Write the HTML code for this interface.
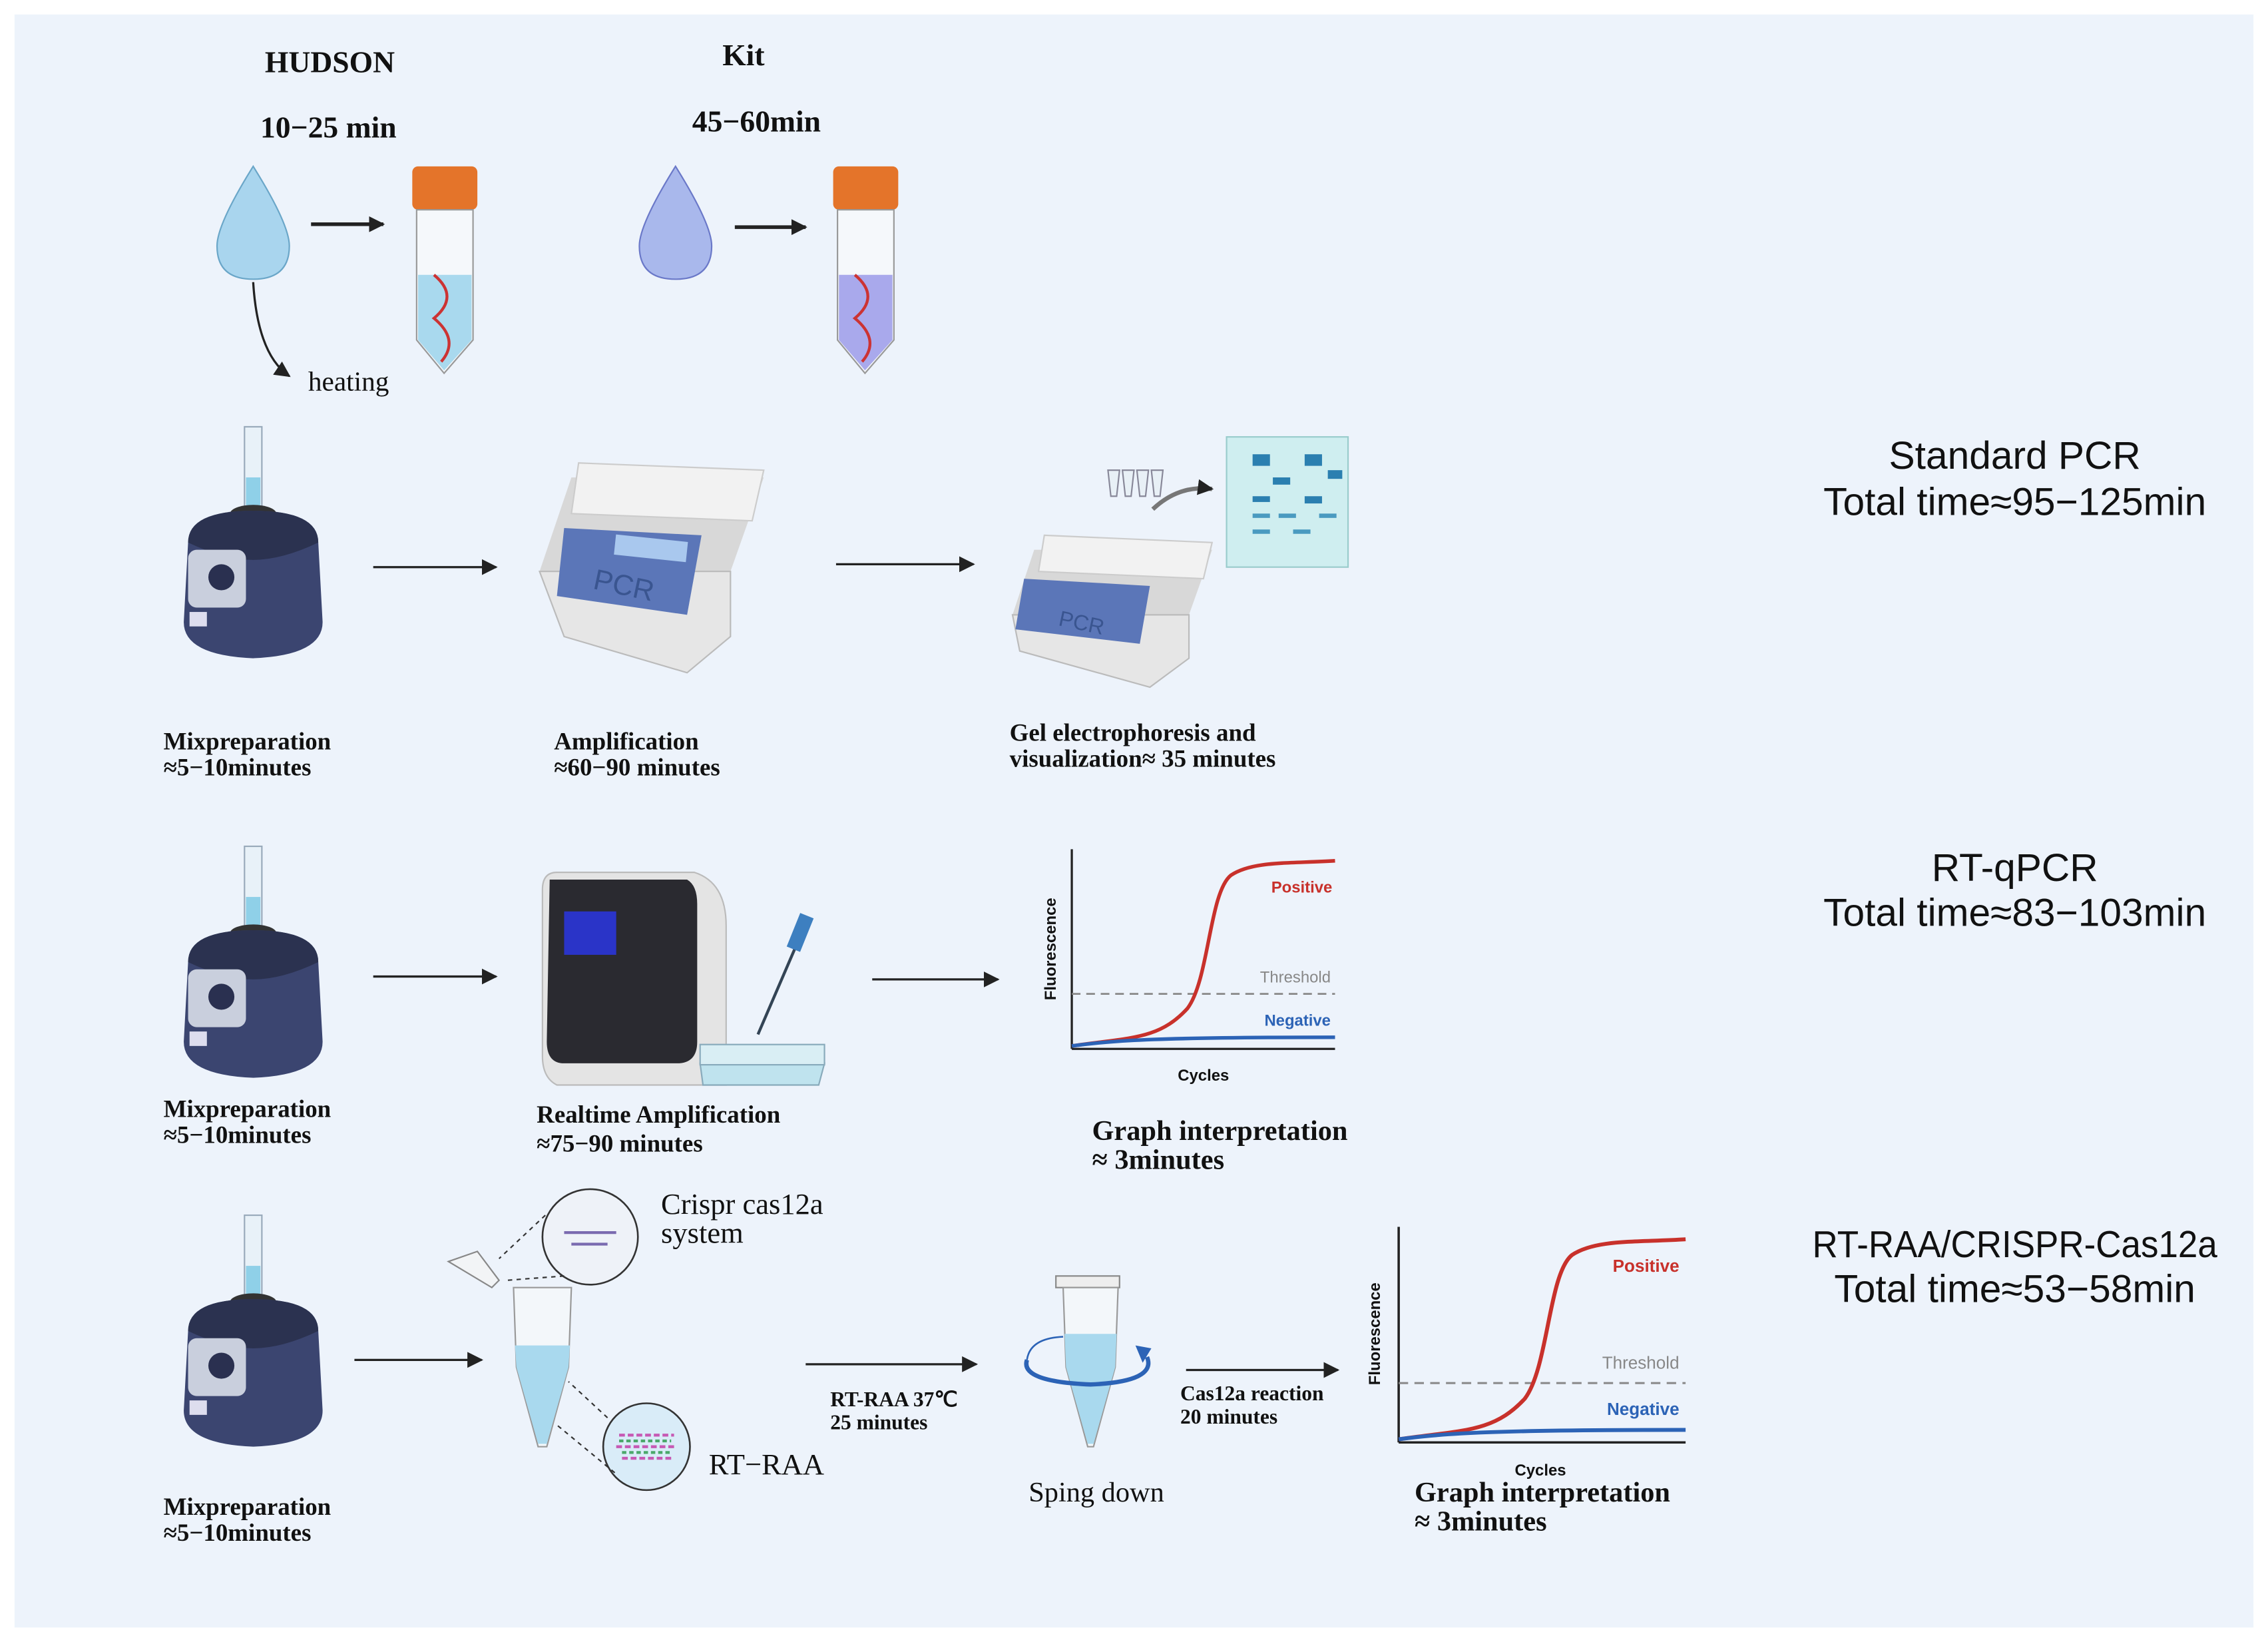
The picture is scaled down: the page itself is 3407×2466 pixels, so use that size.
<!DOCTYPE html>
<html><head><meta charset="utf-8"><style>
html,body{margin:0;padding:0;background:#fff;}
svg{display:block;}
.b{font-family:"Liberation Serif",serif;font-weight:bold;fill:#111;}
.s{font-family:"Liberation Serif",serif;fill:#111;}
.r{font-family:"Liberation Sans",sans-serif;fill:#111;}
.g{font-family:"Liberation Sans",sans-serif;font-weight:bold;}
</style></head><body>
<svg width="3407" height="2466" viewBox="0 0 1568 1135" xmlns="http://www.w3.org/2000/svg">
<defs>
<marker id="ah" viewBox="0 0 10 10" refX="9" refY="5" markerUnits="userSpaceOnUse" markerWidth="11" markerHeight="11" orient="auto"><path d="M0,0 L10,5 L0,10 z" fill="#222"/></marker>
<g id="vortex">
 <rect x="-6" y="-80" width="12" height="60" fill="#e8f1f8" stroke="#9ab" stroke-width="1"/>
 <rect x="-5" y="-45" width="10" height="22" fill="#8fd0e8"/>
 <ellipse cx="0" cy="-20" rx="16" ry="6" fill="#333"/>
 <path d="M-45,0 Q-45,-22 0,-22 Q45,-22 45,0 L48,55 Q48,78 0,80 Q-48,78 -48,55 Z" fill="#3b4570"/>
 <path d="M-45,0 Q-45,-22 0,-22 Q45,-22 45,0 Q20,12 0,12 Q-20,12 -45,0Z" fill="#2b3250"/>
 <rect x="-45" y="5" width="40" height="40" rx="6" fill="#c9cfdd"/>
 <circle cx="-22" cy="24" r="9" fill="#2a3050"/>
 <rect x="-44" y="48" width="12" height="10" fill="#dde" />
</g>
<g id="graph">
 <line x1="0" y1="0" x2="0" y2="138" stroke="#222" stroke-width="1.5"/>
 <line x1="0" y1="138" x2="182" y2="138" stroke="#222" stroke-width="1.5"/>
 <line x1="0" y1="100" x2="182" y2="100" stroke="#888" stroke-width="1.3" stroke-dasharray="6,4"/>
 <path d="M0,136 C40,130 60,132 80,110 C95,90 95,30 110,18 C125,8 150,10 182,8" fill="none" stroke="#c8312b" stroke-width="2.5"/>
 <path d="M0,136 C30,132 60,130 182,130" fill="none" stroke="#2c63b6" stroke-width="2.5"/>
</g>
</defs>
<rect width="1568" height="1135" fill="#fff"/>
<rect x="10" y="10" width="1548" height="1115" fill="#edf3fb"/>

<!-- top -->
<text class="b" x="228" y="50" font-size="21" text-anchor="middle">HUDSON</text>
<text class="b" x="227" y="95" font-size="21" text-anchor="middle">10−25 min</text>
<text class="b" x="514" y="45" font-size="21" text-anchor="middle">Kit</text>
<text class="b" x="523" y="91" font-size="21" text-anchor="middle">45−60min</text>
<path d="M175,115 Q150,155 150,170 Q150,193 175,193 Q200,193 200,170 Q200,155 175,115Z" fill="#a9d5ee" stroke="#6aa6c8"/>
<path d="M467,115 Q442,155 442,170 Q442,193 467,193 Q492,193 492,170 Q492,155 467,115Z" fill="#a9b8ec" stroke="#6a78c8"/>
<line x1="215" y1="155" x2="265" y2="155" stroke="#222" stroke-width="2.5" marker-end="url(#ah)"/>
<line x1="508" y1="157" x2="557" y2="157" stroke="#222" stroke-width="2.5" marker-end="url(#ah)"/>
<path d="M175,195 Q178,245 200,260" fill="none" stroke="#222" stroke-width="1.5" marker-end="url(#ah)"/>
<text class="s" x="213" y="270" font-size="19">heating</text>
<g>
 <rect x="285" y="115" width="45" height="30" rx="4" fill="#e4742a"/>
 <path d="M288,145 L327,145 L327,235 L307,258 L288,235Z" fill="#f5f8fb" stroke="#999"/>
 <path d="M289,190 L326,190 L326,235 L307,256 L289,235Z" fill="#a9d9ee"/>
 <path d="M300,190 Q318,205 300,220 Q318,235 305,250" fill="none" stroke="#c33" stroke-width="2"/>
 <rect x="576" y="115" width="45" height="30" rx="4" fill="#e4742a"/>
 <path d="M579,145 L618,145 L618,235 L598,258 L579,235Z" fill="#f5f8fb" stroke="#999"/>
 <path d="M580,190 L617,190 L617,235 L598,256 L580,235Z" fill="#a9a9ec"/>
 <path d="M591,190 Q609,205 591,220 Q609,235 596,250" fill="none" stroke="#c33" stroke-width="2"/>
</g>

<!-- row 1 -->
<use href="#vortex" x="175" y="375"/>
<line x1="258" y1="392" x2="343" y2="392" stroke="#222" stroke-width="1.5" marker-end="url(#ah)"/>
<g>
 <path d="M373,395 L395,330 L528,330 L505,395 Z" fill="#d8d8d8"/>
 <path d="M400,320 L528,325 L520,360 L395,355Z" fill="#f2f2f2" stroke="#ccc"/>
 <path d="M373,395 L505,395 L505,440 L475,465 L390,440 Z" fill="#e6e6e6" stroke="#bbb"/>
 <path d="M390,365 L485,370 L475,425 L385,412Z" fill="#5b76b8"/>
 <rect x="425" y="372" width="50" height="14" fill="#a9c8ee" transform="rotate(6 450 379)"/>
 <text class="r" x="410" y="410" font-size="20" transform="rotate(12 425 405)" style="fill:#3a5590">PCR</text>
</g>
<line x1="578" y1="390" x2="673" y2="390" stroke="#222" stroke-width="1.5" marker-end="url(#ah)"/>
<g>
 <path d="M700,425 L715,380 L838,380 L822,425 Z" fill="#d8d8d8"/>
 <path d="M722,370 L838,375 L832,400 L718,395Z" fill="#f2f2f2" stroke="#ccc"/>
 <path d="M700,425 L822,425 L822,455 L795,475 L705,450 Z" fill="#e6e6e6" stroke="#bbb"/>
 <path d="M708,400 L795,405 L788,445 L702,435Z" fill="#5b76b8"/>
 <text class="r" x="732" y="435" font-size="15" transform="rotate(12 745 430)" style="fill:#3a5590">PCR</text>
 <g fill="#e8f0f6" stroke="#889"><path d="M766,325 l8,0 l-2,18 l-4,0z"/><path d="M776,325 l8,0 l-2,18 l-4,0z"/><path d="M786,325 l8,0 l-2,18 l-4,0z"/><path d="M796,325 l8,0 l-2,18 l-4,0z"/></g>
 <path d="M797,352 Q815,335 838,338" fill="none" stroke="#777" stroke-width="3" marker-end="url(#ah)"/>
 <rect x="848" y="302" width="84" height="90" fill="#cfeef0" stroke="#9cc"/>
 <rect x="866" y="314" width="12" height="8" fill="#2b7fb0"/><rect x="902" y="314" width="12" height="8" fill="#2b7fb0"/>
 <rect x="918" y="325" width="10" height="6" fill="#2b7fb0"/><rect x="880" y="330" width="12" height="5" fill="#2b7fb0"/>
 <rect x="866" y="343" width="12" height="4" fill="#2b7fb0"/><rect x="902" y="343" width="12" height="5" fill="#2b7fb0"/>
 <rect x="866" y="355" width="12" height="3" fill="#4a9ac0"/><rect x="884" y="355" width="12" height="3" fill="#4a9ac0"/><rect x="912" y="355" width="12" height="3" fill="#4a9ac0"/>
 <rect x="866" y="366" width="12" height="3" fill="#4a9ac0"/><rect x="894" y="366" width="12" height="3" fill="#4a9ac0"/>
</g>
<text class="b" x="113" y="518" font-size="17">Mixpreparation</text>
<text class="b" x="113" y="536" font-size="17">≈5−10minutes</text>
<text class="b" x="383" y="518" font-size="17">Amplification</text>
<text class="b" x="383" y="536" font-size="17">≈60−90 minutes</text>
<text class="b" x="698" y="512" font-size="17">Gel electrophoresis and</text>
<text class="b" x="698" y="530" font-size="17">visualization≈ 35 minutes</text>
<text class="r" x="1393" y="324" font-size="27" text-anchor="middle">Standard PCR</text>
<text class="r" x="1393" y="356" font-size="27" text-anchor="middle">Total time≈95−125min</text>

<!-- row 2 -->
<use href="#vortex" x="175" y="665"/>
<line x1="258" y1="675" x2="343" y2="675" stroke="#222" stroke-width="1.5" marker-end="url(#ah)"/>
<g>
 <path d="M385,603 L480,603 Q502,610 502,640 L502,750 L385,750 Q375,745 375,730 L375,615 Q375,603 385,603Z" fill="#e4e4e4" stroke="#bbb"/>
 <path d="M380,608 L475,608 Q482,612 482,625 L482,720 Q482,735 468,735 L390,735 Q378,735 378,720 Z" fill="#2a2a30"/>
 <rect x="390" y="630" width="36" height="30" fill="#2a34c8"/>
 <path d="M484,735 L570,735 L566,750 L486,750Z" fill="#bfe3ee" stroke="#8ab"/>
 <rect x="484" y="722" width="86" height="14" fill="#d9eef4" stroke="#8ab"/>
 <line x1="524" y1="715" x2="552" y2="650" stroke="#345" stroke-width="2"/>
 <rect x="548" y="632" width="10" height="25" fill="#3d7fc0" transform="rotate(22 553 645)"/>
</g>
<line x1="603" y1="677" x2="690" y2="677" stroke="#222" stroke-width="1.5" marker-end="url(#ah)"/>
<use href="#graph" x="741" y="587"/>
<text class="g" x="900" y="617" font-size="11" text-anchor="middle" fill="#c8312b">Positive</text>
<text class="r" x="920" y="679" font-size="11" text-anchor="end" style="fill:#888">Threshold</text>
<text class="g" x="920" y="709" font-size="11" text-anchor="end" fill="#2c63b6">Negative</text>
<text class="g" x="832" y="747" font-size="11" text-anchor="middle" fill="#111">Cycles</text>
<text class="g" x="730" y="656" font-size="11" text-anchor="middle" fill="#111" transform="rotate(-90 730 656)">Fluorescence</text>
<text class="b" x="113" y="772" font-size="17">Mixpreparation</text>
<text class="b" x="113" y="790" font-size="17">≈5−10minutes</text>
<text class="b" x="371" y="776" font-size="17">Realtime Amplification</text>
<text class="b" x="371" y="796" font-size="17">≈75−90 minutes</text>
<text class="b" x="755" y="788" font-size="19.5">Graph interpretation</text>
<text class="b" x="755" y="808" font-size="19.5">≈ 3minutes</text>
<text class="r" x="1393" y="609" font-size="27" text-anchor="middle">RT-qPCR</text>
<text class="r" x="1393" y="640" font-size="27" text-anchor="middle">Total time≈83−103min</text>

<!-- row 3 -->
<use href="#vortex" x="175" y="920"/>
<line x1="245" y1="940" x2="333" y2="940" stroke="#222" stroke-width="1.5" marker-end="url(#ah)"/>
<g>
 <path d="M310,872 L330,865 L345,885 L340,890Z" fill="#f2f4f6" stroke="#888"/>
 <path d="M355,890 L395,890 L393,945 L378,1000 L372,1000 L357,945Z" fill="#f3f7fa" stroke="#999"/>
 <path d="M356,930 L394,930 L393,945 L378,998 L372,998 L357,945Z" fill="#a9d9ee"/>
 <circle cx="408" cy="855" r="33" fill="#eef2f8" stroke="#333" stroke-width="1.2"/>
 <path d="M390,852 L426,852 M395,860 L420,860" stroke="#7a6bb0" stroke-width="2"/>
 <circle cx="447" cy="1000" r="30" fill="#d9ecf8" stroke="#333" stroke-width="1.2"/>
 <path d="M428,992 l38,0 M426,1000 l40,0 M430,1008 l34,0" stroke="#c659b4" stroke-width="2" stroke-dasharray="4,2"/>
 <path d="M428,996 l36,0 M430,1004 l34,0" stroke="#4aa86a" stroke-width="2" stroke-dasharray="3,2"/>
 <line x1="377" y1="840" x2="345" y2="870" stroke="#333" stroke-dasharray="3,3"/>
 <line x1="390" y1="882" x2="350" y2="885" stroke="#333" stroke-dasharray="3,3"/>
 <line x1="420" y1="980" x2="393" y2="955" stroke="#333" stroke-dasharray="3,3"/>
 <line x1="425" y1="1018" x2="385" y2="985" stroke="#333" stroke-dasharray="3,3"/>
</g>
<text class="s" x="457" y="839" font-size="20.5">Crispr cas12a</text>
<text class="s" x="457" y="859" font-size="20.5">system</text>
<text class="s" x="490" y="1019" font-size="20.5">RT−RAA</text>
<line x1="557" y1="943" x2="675" y2="943" stroke="#222" stroke-width="1.5" marker-end="url(#ah)"/>
<text class="b" x="574" y="972" font-size="14.5">RT-RAA 37℃</text>
<text class="b" x="574" y="988" font-size="14.5">25 minutes</text>
<g>
 <rect x="730" y="882" width="44" height="8" fill="#eee" stroke="#888"/>
 <path d="M735,890 L773,890 L771,945 L756,1000 L752,1000 L737,945Z" fill="#f3f7fa" stroke="#999"/>
 <path d="M736,922 L772,922 L771,945 L756,998 L752,998 L737,945Z" fill="#a9d9ee"/>
 <path d="M710,940 Q705,955 754,957 Q800,955 793,938" fill="none" stroke="#2c63b6" stroke-width="3"/>
 <path d="M710,940 Q712,925 735,924" fill="none" stroke="#2c63b6" stroke-width="1.2"/>
 <path d="M785,930 L796,932 L790,942Z" fill="#2c63b6"/>
</g>
<text class="s" x="758" y="1038" font-size="19.5" text-anchor="middle">Sping down</text>
<line x1="820" y1="947" x2="925" y2="947" stroke="#222" stroke-width="1.5" marker-end="url(#ah)"/>
<text class="b" x="816" y="968" font-size="14.5">Cas12a reaction</text>
<text class="b" x="816" y="984" font-size="14.5">20 minutes</text>
<use href="#graph" x="967" y="855" transform="translate(967 848) scale(1.09 1.08) translate(-967 -855)"/>
<text class="g" x="1138" y="879" font-size="12" text-anchor="middle" fill="#c8312b">Positive</text>
<text class="r" x="1161" y="946" font-size="12" text-anchor="end" style="fill:#888">Threshold</text>
<text class="g" x="1161" y="978" font-size="12" text-anchor="end" fill="#2c63b6">Negative</text>
<text class="g" x="1065" y="1020" font-size="11" text-anchor="middle" fill="#111">Cycles</text>
<text class="g" x="954" y="922" font-size="11" text-anchor="middle" fill="#111" transform="rotate(-90 954 922)">Fluorescence</text>
<text class="b" x="978" y="1038" font-size="19.5">Graph interpretation</text>
<text class="b" x="978" y="1058" font-size="19.5">≈ 3minutes</text>
<text class="b" x="113" y="1047" font-size="17">Mixpreparation</text>
<text class="b" x="113" y="1065" font-size="17">≈5−10minutes</text>
<text class="r" x="1253" y="869" font-size="26" textLength="280" lengthAdjust="spacingAndGlyphs">RT-RAA/CRISPR-Cas12a</text>
<text class="r" x="1393" y="900" font-size="27" text-anchor="middle">Total time≈53−58min</text>
</svg>
</body></html>
